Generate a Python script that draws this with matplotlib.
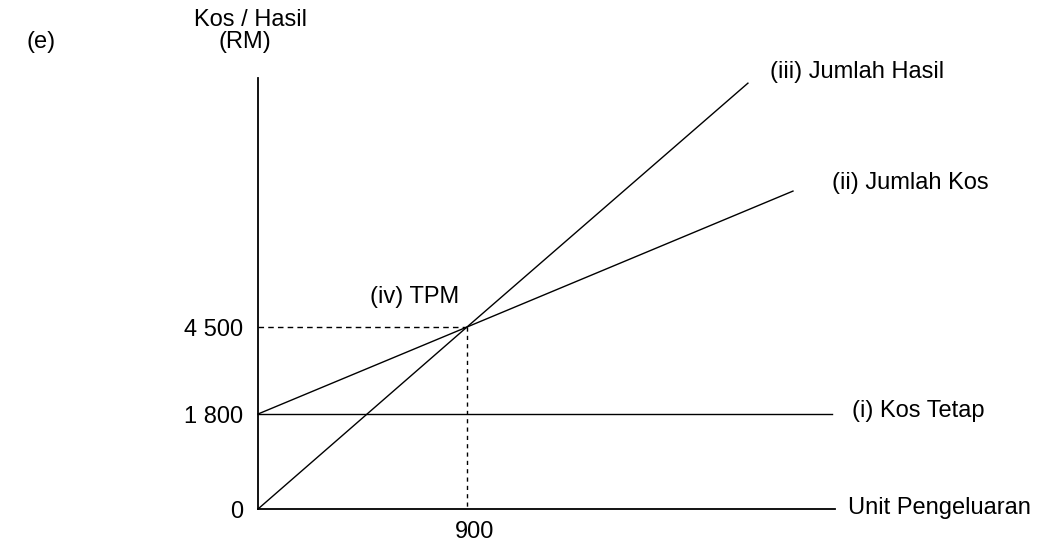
import numpy as np
import matplotlib
matplotlib.use("Agg")
import matplotlib.pyplot as plt
from matplotlib.transforms import ScaledTranslation

# ---- data (schematic break-even chart) ----
fixed_cost = 1800
bep_units = 900
bep_value = 4500
revenue_units = [0, 900, 2110]
revenue_values = [0, 4500, 12070]
cost_units = [0, 900, 2304]
cost_values = [1800, 4500, 8720]
fixed_units = [0, 2472]
fixed_values = [1800, 1800]
y_tick_values = [0, 1800, 4500]
y_tick_labels = ["0", "1 800", "4 500"]
x_tick_values = [900]
x_tick_labels = ["900"]
x_axis_end = 2485
y_axis_top = 12230

plt.rcParams['font.family'] = ['Liberation Sans', 'DejaVu Sans']
FS = 17
W, H = 1037, 547
fig = plt.figure(figsize=(W / 100, H / 100), dpi=100)
ax = fig.add_axes([258 / W, (H - 509) / H, (835 - 258) / W, (509 - 78) / H])


# schematic (non-proportional) value axis, as in the drawing
def fwd(y):
    y = np.asarray(y, dtype=float)
    return np.where(y < 1800, y * 95 / 1800, 95 + (y - 1800) * 87 / 2700)


def inv(d):
    d = np.asarray(d, dtype=float)
    return np.where(d < 95, d * 1800 / 95, 1800 + (d - 95) * 2700 / 87)


ax.set_yscale('function', functions=(fwd, inv))
ax.set_xlim(0, x_axis_end)
ax.set_ylim(0, y_axis_top)

for s in ['top', 'right']:
    ax.spines[s].set_visible(False)
for s in ['left', 'bottom']:
    ax.spines[s].set_linewidth(1.3)
    ax.spines[s].set_color('black')

lw = 1.0
ax.plot(fixed_units, fixed_values, color='black', lw=lw, clip_on=False)
ax.plot(cost_units, cost_values, color='black', lw=lw, clip_on=False)
ax.plot(revenue_units, revenue_values, color='black', lw=lw, clip_on=False)
ax.plot([0, bep_units], [bep_value, bep_value], color='black', lw=1.0,
        dashes=(4, 3), clip_on=False)
ax.plot([bep_units, bep_units], [bep_value, 0], color='black', lw=1.0,
        dashes=(3, 3), clip_on=False)

ax.set_yticks(y_tick_values)
ax.set_yticklabels(y_tick_labels, fontsize=FS)
ax.yaxis.set_minor_locator(matplotlib.ticker.NullLocator())
ax.set_xticks(x_tick_values)
ax.set_xticklabels(x_tick_labels, fontsize=FS)
ax.tick_params(axis='y', length=0, pad=10.5)
ax.tick_params(axis='x', length=0, pad=9)
for lab in ax.get_xticklabels():
    lab.set_transform(lab.get_transform() + ScaledTranslation(8 / 100, 0, fig.dpi_scale_trans))


def px(x, y):
    return x / W, 1 - y / H


fig.text(*px(27, 42), "(e)", fontsize=FS, ha='left', va='center')
fig.text(*px(251, 20), "Kos / Hasil", fontsize=FS, ha='center', va='center')
fig.text(*px(245, 42), "(RM)", fontsize=FS, ha='center', va='center')
fig.text(*px(770, 72), "(iii) Jumlah Hasil", fontsize=FS, ha='left', va='center')
fig.text(*px(832, 183), "(ii) Jumlah Kos", fontsize=FS, ha='left', va='center')
fig.text(*px(370, 297), "(iv) TPM", fontsize=FS, ha='left', va='center')
fig.text(*px(852, 411), "(i) Kos Tetap", fontsize=FS, ha='left', va='center')
fig.text(*px(848, 508), "Unit Pengeluaran", fontsize=FS, ha='left', va='center')

fig.savefig("out.png", dpi=100)
